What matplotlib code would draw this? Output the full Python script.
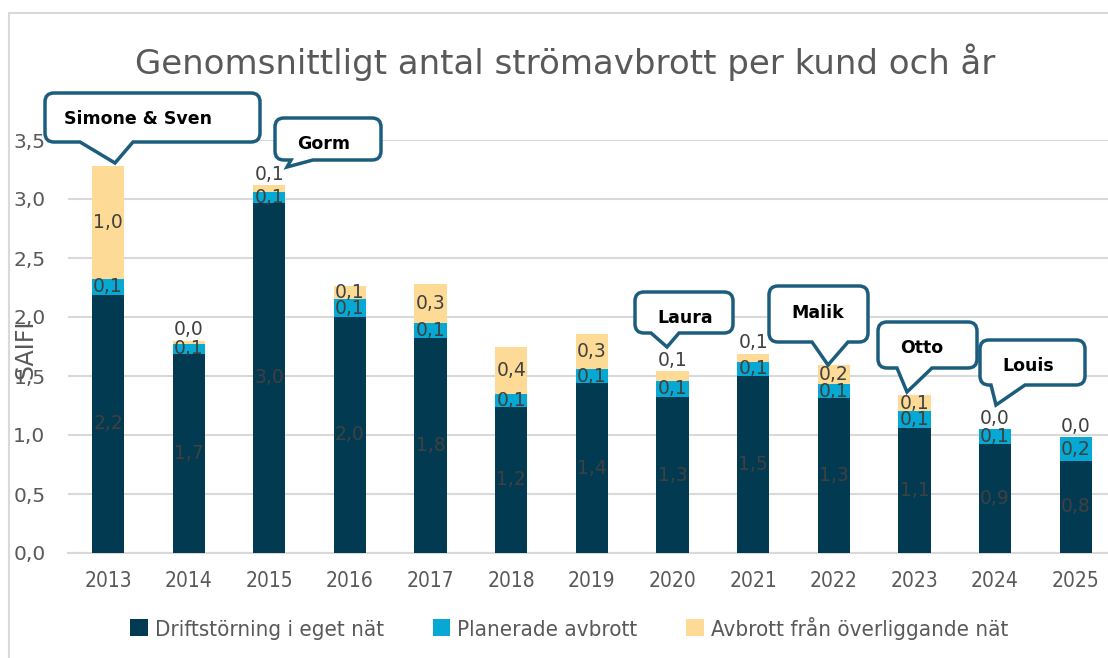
import numpy as np
import matplotlib
matplotlib.use('Agg')
from matplotlib import pyplot as plt
from matplotlib.path import Path
from matplotlib.patches import PathPatch, Rectangle

#%% Data
years = ['2013', '2014', '2015', '2016', '2017', '2018', '2019',
         '2020', '2021', '2022', '2023', '2024', '2025']
drift = [2.19, 1.69, 2.97, 2.00, 1.82, 1.24, 1.44, 1.32, 1.50, 1.31, 1.06, 0.92, 0.78]
planerade = [0.13, 0.08, 0.09, 0.15, 0.13, 0.11, 0.12, 0.14, 0.12, 0.12, 0.14, 0.13, 0.20]
overliggande = [0.96, 0.03, 0.06, 0.11, 0.33, 0.40, 0.30, 0.08, 0.07, 0.16, 0.14, 0.0, 0.0]
series_names = ['Driftstörning i eget nät', 'Planerade avbrott', 'Avbrott från överliggande nät']
yticks = [0.0, 0.5, 1.0, 1.5, 2.0, 2.5, 3.0, 3.5]

# callouts
callout_names = ['Simone & Sven', 'Gorm', 'Laura', 'Malik', 'Otto', 'Louis']

#%% Styles
W, H = 1108, 658
c_drift = '#023A51'
c_plan = '#05A9D3'
c_over = '#FDDB96'
c_grey = '#595959'
c_lab = '#404040'
c_box = '#1C5D7E'

fig = plt.figure(figsize=(W/100, H/100), dpi=100)

def fx(x):
    return x / W

def fy(y):
    return 1 - y / H

# chart border
fig.patches.append(Rectangle((fx(9), fy(700)), fx(1200), fy(13) - fy(700),
                             transform=fig.transFigure, fill=False,
                             edgecolor='#D9D9D9', linewidth=1.5))

ax = fig.add_axes([fx(67.7), fy(553), fx(1116 - 67.7), fy(140) - fy(553)])
x = np.arange(len(years))
bw = 0.4
b1 = np.array(drift)
b2 = b1 + np.array(planerade)
ax.bar(x, drift, bw, color=c_drift, label=series_names[0], zorder=3)
ax.bar(x, planerade, bw, bottom=b1, color=c_plan, label=series_names[1], zorder=3)
ax.bar(x, overliggande, bw, bottom=b2, color=c_over, label=series_names[2], zorder=3)

ax.set_xlim(-0.5, len(years) - 0.5)
ax.set_ylim(0, 3.5)
ax.set_yticks(yticks)
ax.set_yticklabels([('%.1f' % v).replace('.', ',') for v in yticks])
ax.set_xticks(x)
ax.set_xticklabels(years)
ax.yaxis.grid(True, color='#D9D9D9', linewidth=1.5, zorder=0)
for s in ['top', 'right', 'left']:
    ax.spines[s].set_visible(False)
ax.spines['bottom'].set_color('#D9D9D9')
ax.spines['bottom'].set_linewidth(1.5)
ax.tick_params(length=0, colors=c_grey, pad=14)
ax.tick_params(axis='x', labelsize=15, pad=13)
ax.tick_params(axis='y', labelsize=14.5, pad=16)
for t in ax.get_xticklabels():
    t.set_fontstretch('condensed')

# data labels
def lab(v):
    return ('%.1f' % v).replace('.', ',')

for i in x:
    ax.text(i, drift[i] / 2, lab(drift[i]), ha='center', va='center',
            color=c_lab, fontsize=13.5, zorder=4)
    ax.text(i, b1[i] + planerade[i] / 2, lab(planerade[i]), ha='center', va='center',
            color=c_lab, fontsize=13.5, zorder=4)
    top = b2[i] + overliggande[i]
    if overliggande[i] >= 0.1:
        ax.text(i, b2[i] + overliggande[i] / 2, lab(overliggande[i]), ha='center',
                va='center', color=c_lab, fontsize=13.5, zorder=4)
    else:
        ax.text(i, top + 0.01, lab(overliggande[i]), ha='center', va='bottom',
                color=c_lab, fontsize=13.5, zorder=4)

# y label
fig.text(fx(26), fy(349), 'SAIFI', rotation=90, ha='center', va='center',
         color=c_grey, fontsize=17)

# title
fig.text(fx(565), fy(62), 'Genomsnittligt antal strömavbrott per kund och år',
         ha='center', va='center', color=c_grey, fontsize=24.5)

# legend
leg = fig.legend(loc='center', bbox_to_anchor=(fx(569), fy(628)), ncol=3,
                 frameon=False, handlelength=0.8, handleheight=0.8,
                 handletextpad=0.3, columnspacing=2.2,
                 prop={'size': 16, 'stretch': 'condensed'})
for t in leg.get_texts():
    t.set_color(c_grey)

#%% Callouts (rounded box with a pointer on the bottom edge), pixel coords
def callout(box, base, tip, text, tpos, r=9):
    x0, y0, x1, y1 = box
    bx0, bx1 = base
    tx, ty = tip
    pts = [(x0 + r, y0), (x1 - r, y0), (x1, y0), (x1, y0 + r),
           (x1, y1 - r), (x1, y1), (x1 - r, y1),
           (bx1, y1), (tx, ty), (bx0, y1),
           (x0 + r, y1), (x0, y1), (x0, y1 - r),
           (x0, y0 + r), (x0, y0), (x0 + r, y0), (x0 + r, y0)]
    codes = [Path.MOVETO, Path.LINETO, Path.CURVE3, Path.CURVE3,
             Path.LINETO, Path.CURVE3, Path.CURVE3,
             Path.LINETO, Path.LINETO, Path.LINETO,
             Path.LINETO, Path.CURVE3, Path.CURVE3,
             Path.LINETO, Path.CURVE3, Path.CURVE3, Path.CLOSEPOLY]
    p = Path([(fx(a), fy(b)) for a, b in pts], codes)
    fig.patches.append(PathPatch(p, transform=fig.transFigure, facecolor='white',
                                 edgecolor=c_box, linewidth=2.5, zorder=10))
    fig.text(fx(tpos[0]), fy(tpos[1]), text, ha='center', va='center',
             fontsize=12.5, fontweight='bold', color='black', zorder=11)

callout((45, 93, 260, 142), (80, 133), (115, 163), callout_names[0], (138, 119))
callout((275, 118, 381, 160), (291, 313), (287, 167), callout_names[1], (324, 144))
callout((635, 292, 733, 333), (651, 679), (667, 347), callout_names[2], (685, 318))
callout((769, 286, 868, 342), (812, 848), (828, 365), callout_names[3], (818, 313))
callout((878, 322, 977, 368), (897, 932), (907, 392), callout_names[4], (922, 348))
callout((980, 340, 1085, 385), (991, 1025), (996, 405), callout_names[5], (1028, 366))

fig.savefig('out.png', dpi=100)
